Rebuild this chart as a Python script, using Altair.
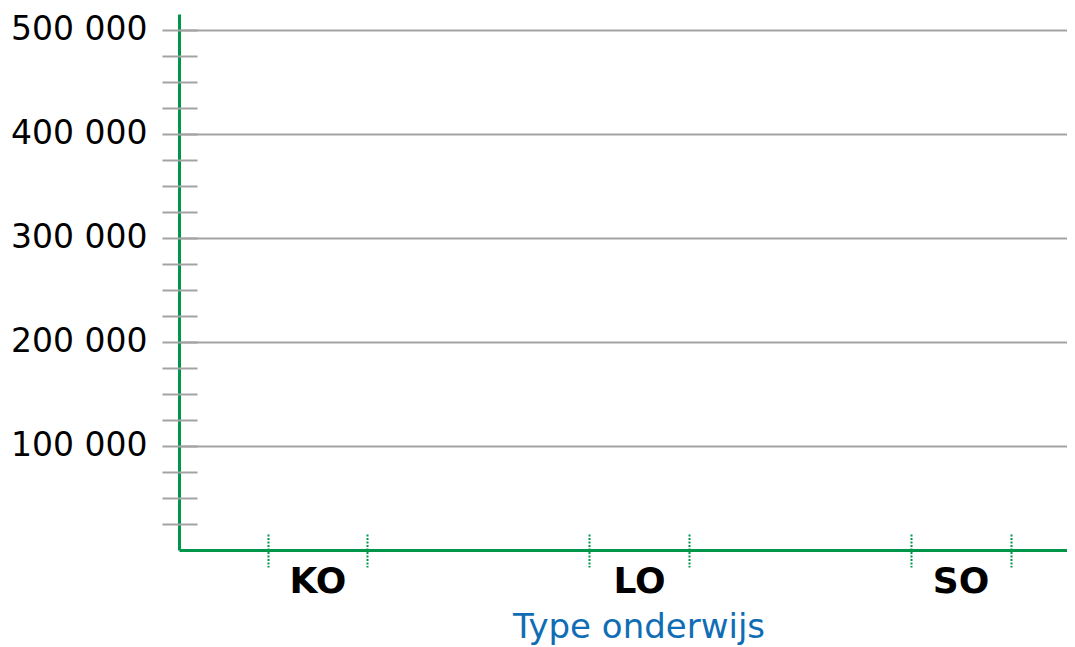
import altair as alt
import pandas as pd

# Data (no visible bars in the reference -> zero values)
categories = ["KO", "LO", "SO"]
values = [0, 0, 0]

# Axis tick values
y_minor_ticks = [25000 * i for i in range(1, 21)]
y_major_ticks = [100000, 200000, 300000, 400000, 500000]

df = pd.DataFrame({"type": categories, "value": values})

GREEN = "#00964a"
GRAY = "#a3a3a3"
FONT = "DejaVu Sans"

xscale = alt.Scale(paddingInner=0.689, paddingOuter=0.2255, align=0.6138, round=False)
yscale = alt.Scale(domain=[0, 515000], nice=False, zero=True)

base = alt.Chart(df)

main = base.mark_bar(color=GREEN).encode(
    x=alt.X(
        "type:N",
        sort=categories,
        scale=xscale,
        axis=alt.Axis(
            orient="bottom",
            title="Type onderwijs",
            titleFont=FONT,
            titleFontSize=34,
            titleFontWeight="normal",
            titleColor="#0f6db5",
            titleX=459.5,
            titleY=87,
            titleBaseline="alphabetic",
            labelFont=FONT,
            labelFontSize=36,
            labelFontWeight="bold",
            labelColor="#000000",
            labelPadding=14,
            labelBaseline="top",
            labelAngle=0,
            ticks=False,
            tickSize=0,
            domainColor=GREEN,
            domainWidth=3,
            grid=False,
        ),
    ),
    y=alt.Y(
        "value:Q",
        scale=yscale,
        axis=alt.Axis(
            orient="left",
            values=y_major_ticks,
            grid=True,
            gridColor=GRAY,
            gridWidth=2,
            ticks=False,
            tickSize=0,
            labels=False,
            title=None,
            domainColor=GREEN,
            domainWidth=3,
        ),
    ),
)

ticks_left = base.mark_bar(opacity=0).encode(
    x=alt.X(
        "type:N",
        sort=categories,
        scale=xscale,
        axis=alt.Axis(
            orient="bottom",
            bandPosition=0,
            offset=-16,
            tickSize=33,
            tickColor=GREEN,
            tickWidth=2,
            tickDash=[2, 1.5],
            labels=False,
            domain=False,
            grid=False,
            title=None,
        ),
    ),
    y=alt.Y(
        "value:Q",
        scale=yscale,
        axis=alt.Axis(
            orient="left",
            values=y_minor_ticks,
            offset=-18,
            tickSize=35,
            tickColor=GRAY,
            tickWidth=2,
            labelExpr="datum.value % 100000 == 0 ? replace(format(datum.value, ','), ',', ' ') : ''",
            labelFont=FONT,
            labelFontSize=33,
            labelColor="#000000",
            labelPadding=15,
            domain=False,
            grid=False,
            title=None,
        ),
    ),
)

ticks_right = base.mark_bar(opacity=0).encode(
    x=alt.X(
        "type:N",
        sort=categories,
        scale=xscale,
        axis=alt.Axis(
            orient="bottom",
            bandPosition=1,
            offset=-16,
            tickSize=33,
            tickColor=GREEN,
            tickWidth=2,
            tickDash=[2, 1.5],
            labels=False,
            domain=False,
            grid=False,
            title=None,
        ),
    ),
    y=alt.Y("value:Q", scale=yscale, axis=None),
)

chart = (
    alt.layer(main, ticks_left, ticks_right)
    .resolve_axis(x="independent", y="independent")
    .properties(
        width=888,
        height=536,
        autosize=alt.AutoSizeParams(type="none"),
        padding={"left": 171, "top": 6, "right": 0, "bottom": 97},
        background="white",
    )
    .configure_view(stroke=None)
)

chart.save("out.html", embed_options={"renderer": "svg", "actions": False})
